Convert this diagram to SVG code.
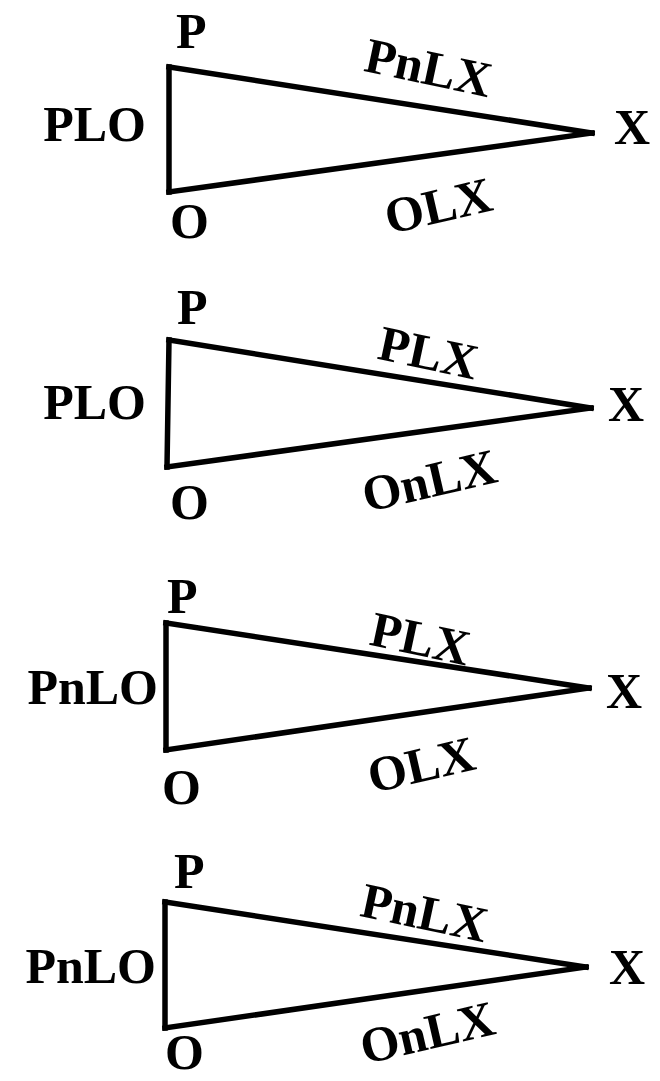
<svg xmlns="http://www.w3.org/2000/svg" width="660" height="1081" viewBox="0 0 660 1081">
<style>
.edge{fill:none;stroke:#000;stroke-width:5.5;stroke-linejoin:miter;stroke-linecap:square}
.lbl{font-family:"Liberation Serif","DejaVu Serif",serif;font-weight:bold;font-size:50px;fill:#000}
.mid{text-anchor:middle}
.end{text-anchor:end}
</style>
<rect width="660" height="1081" fill="#fff"/>
<g id="connectors">
<path class="edge" d="M169,67 L169,192"/>
<path class="edge" d="M169,67 L592,133"/>
<path class="edge" d="M169,192 L592,133"/>
<path class="edge" d="M169,340 L167,467"/>
<path class="edge" d="M169,340 L591,408"/>
<path class="edge" d="M167,467 L591,408"/>
<path class="edge" d="M166,623 L166,750"/>
<path class="edge" d="M166,623 L589,688"/>
<path class="edge" d="M166,750 L589,688"/>
<path class="edge" d="M165,902 L165,1028"/>
<path class="edge" d="M165,902 L586,967"/>
<path class="edge" d="M165,1028 L586,967"/>
</g>
<g id="tri1">
<text class="lbl" x="176" y="48">P</text>
<text class="lbl end" x="146" y="141">PLO</text>
<text class="lbl" x="614" y="144">X</text>
<text class="lbl" x="170" y="238">O</text>
<text class="lbl mid" transform="translate(425,84) rotate(12)">PnLX</text>
<text class="lbl mid" transform="translate(442,222) rotate(-13)">OLX</text>
</g>
<g id="tri2">
<text class="lbl" x="177" y="324">P</text>
<text class="lbl end" x="146" y="419">PLO</text>
<text class="lbl" x="608" y="421">X</text>
<text class="lbl" x="170" y="519">O</text>
<text class="lbl mid" transform="translate(425,369) rotate(12)">PLX</text>
<text class="lbl mid" transform="translate(433,497) rotate(-13)">OnLX</text>
</g>
<g id="tri3">
<text class="lbl" x="167" y="613">P</text>
<text class="lbl end" x="158" y="704">PnLO</text>
<text class="lbl" x="606" y="708">X</text>
<text class="lbl" x="162" y="804">O</text>
<text class="lbl mid" transform="translate(417,655) rotate(12)">PLX</text>
<text class="lbl mid" transform="translate(425,781) rotate(-13)">OLX</text>
</g>
<g id="tri4">
<text class="lbl" x="174" y="888">P</text>
<text class="lbl end" x="156" y="983">PnLO</text>
<text class="lbl" x="609" y="984">X</text>
<text class="lbl" x="165" y="1069">O</text>
<text class="lbl mid" transform="translate(431,1049) rotate(-13)">OnLX</text>
<text class="lbl mid" transform="translate(421,929) rotate(12)">PnLX</text>
</g>
</svg>
